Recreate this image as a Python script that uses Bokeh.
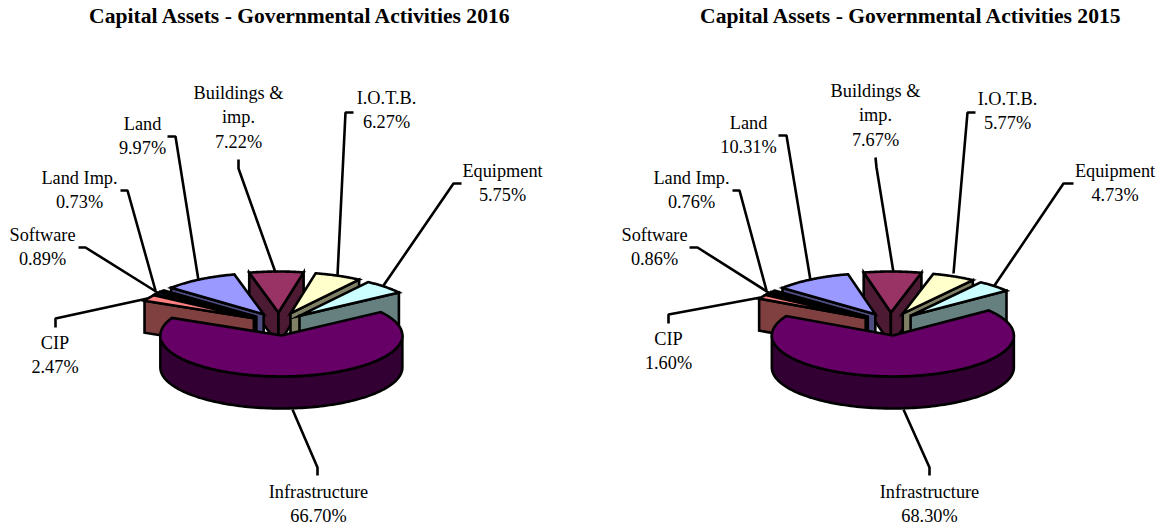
import numpy as np
from bokeh.plotting import figure
from bokeh.embed import file_html
from bokeh.resources import INLINE
from bokeh.core.properties import value

# ---- data ----
categories = ["Buildings & imp.", "I.O.T.B.", "Equipment", "Infrastructure", "CIP", "Software", "Land Imp.", "Land"]
share_2016 = [7.22, 6.27, 5.75, 66.70, 2.47, 0.89, 0.73, 9.97]
share_2015 = [7.67, 5.77, 4.73, 68.30, 1.60, 0.86, 0.76, 10.31]
colors = ["#993366", "#FFFFCC", "#CCFFFF", "#660066", "#FF8080", "#0066CC", "#CCCCFF", "#9999FF"]
sides = ["#4D1A33", "#808066", "#668080", "#330033", "#804040", "#003366", "#666680", "#4D4D80"]
title_2016 = "Capital Assets - Governmental Activities 2016"
title_2015 = "Capital Assets - Governmental Activities 2015"

# ---- layout (page pixels) ----
RX, RY, DEPTH, EX, EY = 121, 41, 32, 29, 11.5
LINE = 24.7
label_lines = {
    "Buildings & imp.": ["Buildings &", "imp."],
    "I.O.T.B.": ["I.O.T.B."], "Equipment": ["Equipment"], "Infrastructure": ["Infrastructure"],
    "CIP": ["CIP"], "Software": ["Software"], "Land Imp.": ["Land Imp."], "Land": ["Land"],
}
layout_2016 = dict(
    cx=278.5, cy=323.5, start=-14, title_x=300,
    labels={"Buildings & imp.": (238, 92), "Land": (142, 123), "Land Imp.": (79, 177), "Software": (42, 234),
            "CIP": (54.5, 342), "I.O.T.B.": (386, 97), "Equipment": (502, 170), "Infrastructure": (318, 491)},
    leaders={"Buildings & imp.": [(238, 159), (238, 168), (275, 272)],
             "Land": [(167, 136), (175, 136), (198, 280)],
             "Land Imp.": [(120, 190), (127, 190), (155, 290)],
             "Software": [(78, 247), (85, 247), (157, 292)],
             "CIP": [(55, 327), (55, 318), (147, 298)],
             "I.O.T.B.": [(353, 112), (345, 112), (337, 275)],
             "Equipment": [(461, 183), (453, 183), (383, 285)],
             "Infrastructure": [(317, 475), (317, 467), (292, 409)]},
)
layout_2015 = dict(
    cx=890, cy=323.5, start=-13, title_x=911,
    labels={"Buildings & imp.": (875, 90), "Land": (748, 122), "Land Imp.": (691, 177), "Software": (654, 234),
            "CIP": (668, 338), "I.O.T.B.": (1007, 98), "Equipment": (1114.5, 170), "Infrastructure": (929, 491)},
    leaders={"Buildings & imp.": [(875, 157), (876, 167), (893, 272)],
             "Land": [(778, 135), (786, 135), (810, 280)],
             "Land Imp.": [(732, 190), (739, 190), (766, 290)],
             "Software": [(689, 247), (697, 247), (768, 292)],
             "CIP": [(668, 323), (668, 314), (760, 297)],
             "I.O.T.B.": [(975, 112), (967, 112), (953, 273)],
             "Equipment": [(1073, 183), (1063, 183), (994, 285)],
             "Infrastructure": [(929, 475), (929, 467), (903, 409)]},
)

p = figure(width=1157, height=527, x_range=(0, 1157), y_range=(527, 0),
           toolbar_location=None, output_backend="svg", min_border=0)
p.axis.visible = False
p.grid.visible = False
p.outline_line_color = None
p.background_fill_color = "white"
p.border_fill_color = "white"


def pt(ax, ay, deg, dy=0):
    a = np.radians(deg)
    return ax + RX * np.sin(a), ay - RY * np.cos(a) + dy


def draw_pie(shares, lay, title):
    spans = [s * 3.6 for s in shares]
    starts = lay["start"] + np.concatenate([[0], np.cumsum(spans)[:-1]])
    slices = []
    for i in range(len(shares)):
        mid = starts[i] + spans[i] / 2
        slices.append((np.cos(np.radians(mid)), i, mid))
    slices.sort(key=lambda t: -t[0])
    for _, i, mid in slices:
        a0, a1 = starts[i], starts[i] + spans[i]
        ax = lay["cx"] + EX * np.sin(np.radians(mid))
        ay = lay["cy"] - EY * np.cos(np.radians(mid))
        # radial faces that look towards the viewer
        for edge, vis in ((a0, np.sin(np.radians(a0)) < 0), (a1, np.sin(np.radians(a1)) > 0)):
            if vis:
                ox, oy = pt(ax, ay, edge)
                p.patch([ax, ox, ox, ax], [ay, oy, oy + DEPTH, ay + DEPTH],
                        fill_color=sides[i], line_color="black", line_width=2.6, line_join="miter")
        # rim
        r0, r1 = max(a0, 90), min(a1, 270)
        if r1 > r0:
            t = np.linspace(r0, r1, 120)
            xs, ys = pt(ax, ay, t)
            p.patch(np.r_[xs, xs[::-1]], np.r_[ys, ys[::-1] + DEPTH],
                    fill_color=sides[i], line_color="black", line_width=2.6, line_join="round")
        # top
        t = np.linspace(a0, a1, max(int(spans[i] * 2), 8))
        xs, ys = pt(ax, ay, t)
        p.patch(np.r_[ax, xs], np.r_[ay, ys], fill_color=colors[i], line_color="black",
                line_width=2.6, line_join="miter")
    # leaders and texts
    for name, pts in lay["leaders"].items():
        p.line([q[0] for q in pts], [q[1] for q in pts], line_color="black", line_width=2.6)
    for i, name in enumerate(categories):
        x, y = lay["labels"][name]
        lines = label_lines[name] + [f"{shares[i]:.2f}%"]
        for k, s in enumerate(lines):
            p.text([x], [y + k * LINE], text=[s], text_font=value("Liberation Serif"), text_font_size="18.3px",
                   text_align="center", text_baseline="middle", text_color="black")
    p.text([lay["title_x"]], [15], text=[title], text_font=value("Liberation Serif"), text_font_size="21.6px",
           text_font_style="bold", text_align="center", text_baseline="middle", text_color="black")


draw_pie(share_2016, layout_2016, title_2016)
draw_pie(share_2015, layout_2015, title_2015)

open("out.html", "w").write(file_html(p, INLINE))
